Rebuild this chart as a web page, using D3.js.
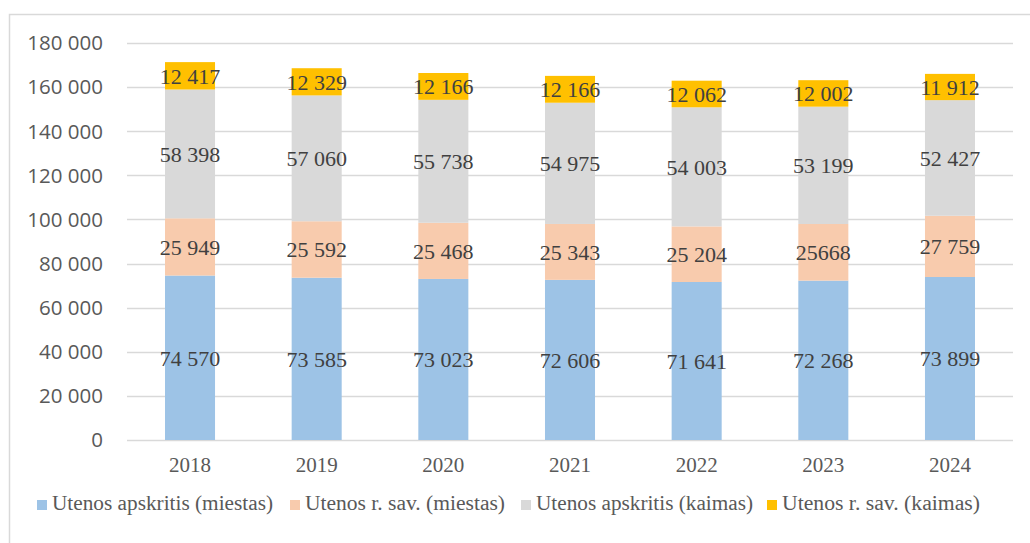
<!DOCTYPE html>
<meta charset="utf-8">
<style>
  body { margin: 0; background: #fff; }
  svg { display: block; }
</style>
<body>
<svg></svg>
<script src="https://cdn.jsdelivr.net/npm/d3@7"></script>
<script>

// chart data
var years = ["2018", "2019", "2020", "2021", "2022", "2023", "2024"];
var seriesNames = ["Utenos apskritis (miestas)", "Utenos r. sav. (miestas)",
                   "Utenos apskritis (kaimas)", "Utenos r. sav. (kaimas)"];
var apskMiestas = [74570, 73585, 73023, 72606, 71641, 72268, 73899];
var savMiestas  = [25949, 25592, 25468, 25343, 25204, 25668, 27759];
var apskKaimas  = [58398, 57060, 55738, 54975, 54003, 53199, 52427];
var savKaimas   = [12417, 12329, 12166, 12166, 12062, 12002, 11912];
// label text as printed (2023 one has no space)
var savMiestasLabels = ["25 949", "25 592", "25 468", "25 343", "25 204", "25668", "27 759"];
var yTicks = [0, 20000, 40000, 60000, 80000, 100000, 120000, 140000, 160000, 180000];

var colors = ["#9dc3e6", "#f8cbad", "#d9d9d9", "#ffc000"];
const SERIF = "Liberation Serif";
const SANS = "Open Sans";

var width = 1030, height = 543;
var svg = d3.select("svg").attr("width", width).attr("height", height);

// outer frame
svg.append("rect")
   .attr("x", 9.5).attr("y", 14.5)
   .attr("width", width + 10).attr("height", height + 10)
   .attr("fill", "none").attr("stroke", "#d9d9d9").attr("stroke-width", 1.5);

var plotLeft = 127, plotRight = 1013, plotTop = 43, plotBottom = 440;

var x = d3.scaleBand().domain(years).range([plotLeft, plotRight]).paddingInner(0.605).paddingOuter(0.3);
var y = d3.scaleLinear().domain([0, 180000]).range([plotBottom, plotTop]);

var fmt = function(v) { return d3.format(",")(v).replace(/,/g, " "); };

// gridlines
svg.append("g").selectAll("line")
   .data(yTicks).enter().append("line")
   .attr("x1", plotLeft).attr("x2", plotRight)
   .attr("y1", function(d){ return Math.round(y(d)) + 0.5; })
   .attr("y2", function(d){ return Math.round(y(d)) + 0.5; })
   .attr("stroke", "#d9d9d9").attr("stroke-width", 1.5);

// y tick labels
svg.append("g").selectAll("text")
   .data(yTicks).enter().append("text")
   .style("font-family", SANS)
   .attr("x", 103).attr("y", function(d){ return y(d); })
   .attr("dy", "0.36em").attr("text-anchor", "end")
   .attr("font-size", 20.5).attr("fill", "#595959")
   .text(function(d){ return fmt(d); });

// stacked bars
var rows = years.map(function(yr, i) {
  return { year: yr, s0: apskMiestas[i], s1: savMiestas[i], s2: apskKaimas[i], s3: savKaimas[i],
           l1: savMiestasLabels[i] };
});
var stack = d3.stack().keys(["s0", "s1", "s2", "s3"]);
var layers = stack(rows);

var groups = svg.append("g").selectAll("g")
   .data(layers).enter().append("g")
   .attr("fill", function(d, i){ return colors[i]; });

groups.selectAll("rect")
   .data(function(d){ return d; }).enter().append("rect")
   .attr("x", function(d){ return x(d.data.year); })
   .attr("width", x.bandwidth())
   .attr("y", function(d){ return y(d[1]); })
   .attr("height", function(d){ return y(d[0]) - y(d[1]); });

// data labels
layers.forEach(function(layer, li) {
  svg.append("g").selectAll("text")
     .data(layer).enter().append("text")
     .style("font-family", SERIF)
     .attr("x", function(d){ return x(d.data.year) + x.bandwidth() / 2; })
     .attr("y", function(d){ return (y(d[0]) + y(d[1])) / 2; })
     .attr("dy", "0.36em").attr("text-anchor", "middle")
     .attr("font-size", 22).attr("fill", "#404040")
     .text(function(d){ return li == 1 ? d.data.l1 : fmt(d[1] - d[0]); });
});

// x labels
svg.append("g").selectAll("text")
   .data(years).enter().append("text")
   .style("font-family", SERIF)
   .attr("x", function(d){ return x(d) + x.bandwidth() / 2; })
   .attr("y", 472)
   .attr("text-anchor", "middle")
   .attr("font-size", 21).attr("fill", "#595959")
   .text(function(d){ return d; });

// legend
var legendPos = [37, 290, 521, 767];
var legendLen = [221, 200, 217, 198];
var legend = svg.append("g");
seriesNames.forEach(function(name, i) {
  legend.append("rect")
        .attr("x", legendPos[i]).attr("y", 500)
        .attr("width", 10).attr("height", 10)
        .attr("fill", colors[i]);
  legend.append("text")
        .style("font-family", SERIF)
        .attr("x", legendPos[i] + 15).attr("y", 510)
        .attr("font-size", 20).attr("fill", "#595959")
        .attr("textLength", legendLen[i]).attr("lengthAdjust", "spacingAndGlyphs")
        .text(name);
});

</script>
</body>
</html>
